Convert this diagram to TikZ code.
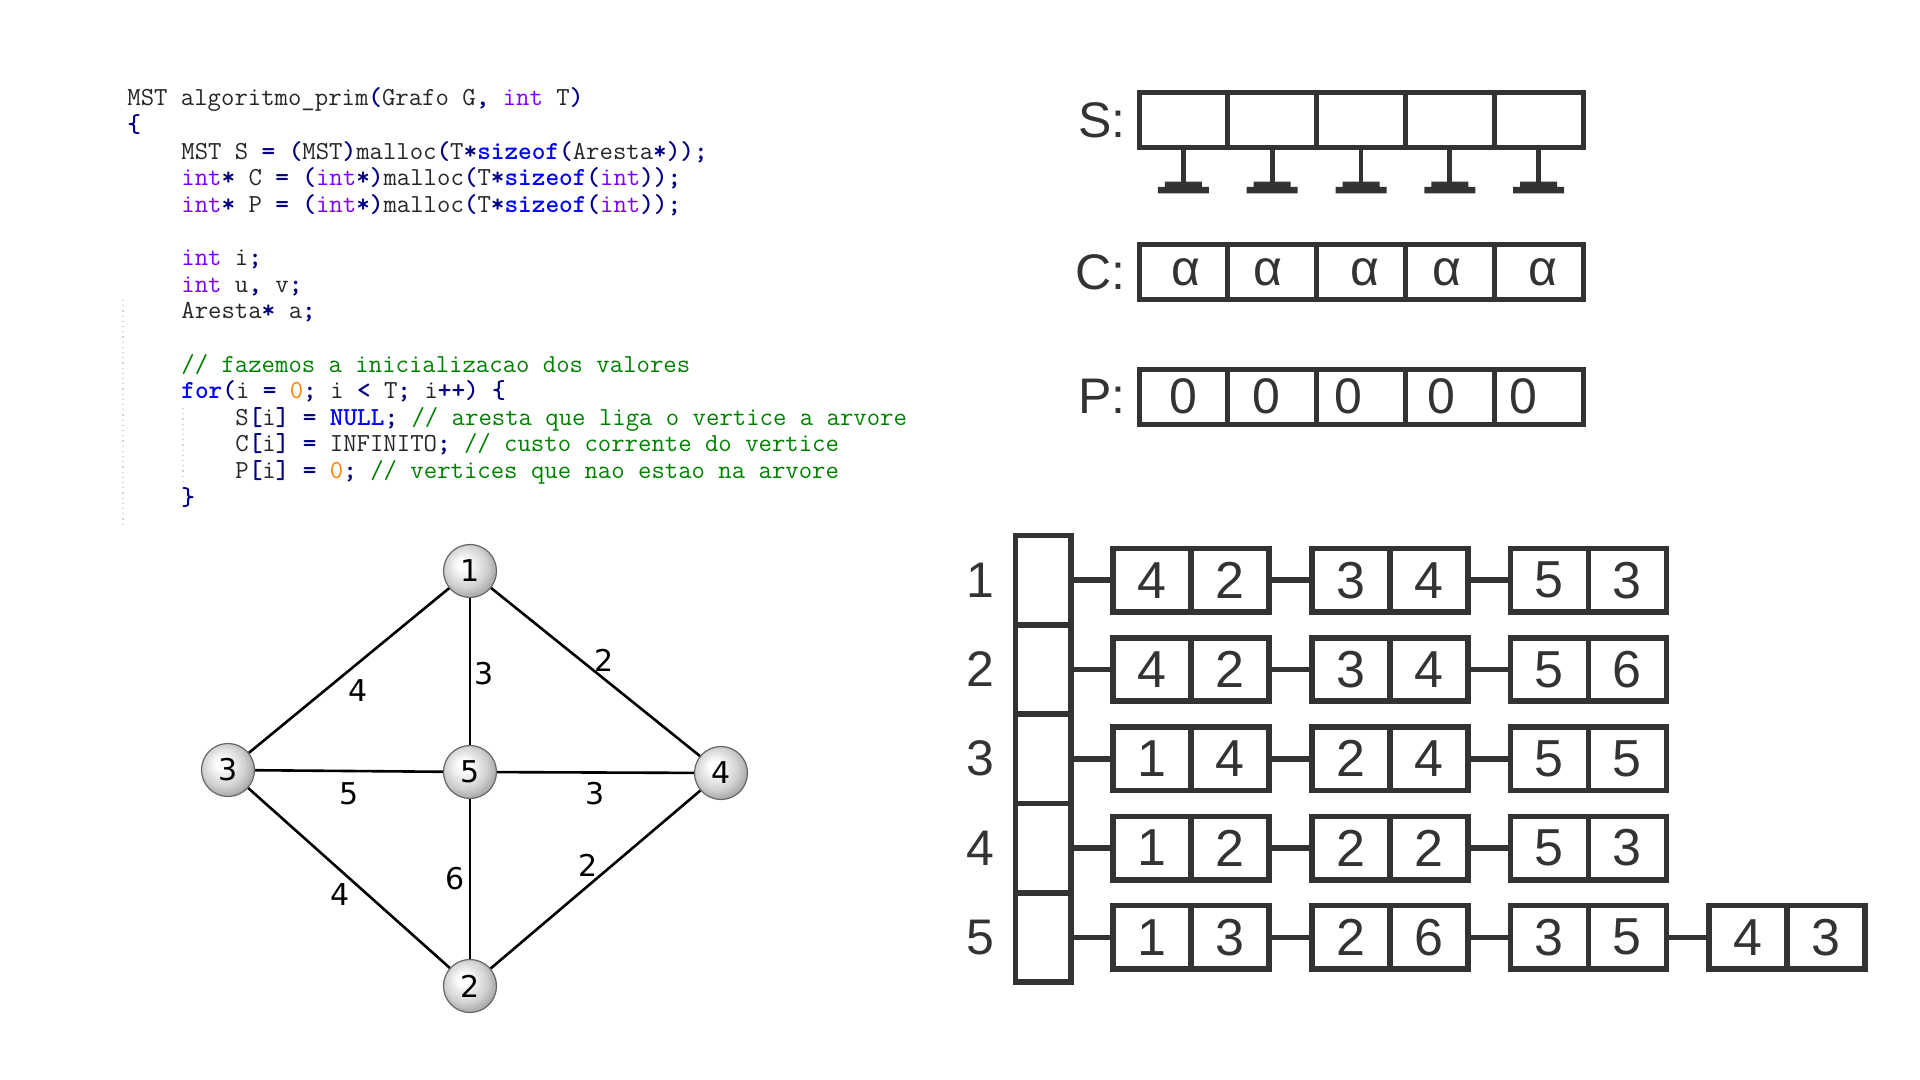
\documentclass[tikz,border=0pt]{standalone}
\usepackage{fontspec}
\newfontfamily\arialfont{Liberation Sans}
\newfontfamily\graphfont{DejaVu Sans}

\definecolor{kwblue}{HTML}{0000FF}
\definecolor{typepurple}{HTML}{8000FF}
\definecolor{opnavy}{HTML}{000080}
\definecolor{numorange}{HTML}{FF8000}
\definecolor{comgreen}{HTML}{008000}
\definecolor{boxgray}{HTML}{333333}

\newcommand{\kw}[1]{\textcolor{kwblue}{\bfseries #1}}
\newcommand{\ty}[1]{\textcolor{typepurple}{#1}}
\newcommand{\op}[1]{\textcolor{opnavy}{\bfseries #1}}
\newcommand{\nm}[1]{\textcolor{numorange}{#1}}
\newcommand{\cm}[1]{\textcolor{comgreen}{#1}}

\pgfdeclareradialshading{vball}{\pgfpoint{-7bp}{7bp}}{%
  color(0bp)=(white); color(5bp)=(white);
  color(20bp)=(black!18); color(32bp)=(black!42); color(50bp)=(black!42)}

\tikzset{
  codeline/.style={anchor=base west, inner sep=0pt, text=black!85,
    font=\ttfamily\fontsize{13}{14}\selectfont},
  guide/.style={gray!35, dotted, line width=0.6pt},
  vert/.style={circle, draw=black!60, line width=0.6pt, shade, shading=vball,
    minimum size=26.5pt, inner sep=0pt, font=\graphfont\fontsize{15}{15}\selectfont},
  wlbl/.style={inner sep=0pt, font=\graphfont\fontsize{15}{15}\selectfont},
  gedge/.style={line width=1.3pt},
  arrlbl/.style={anchor=east, inner sep=0pt, text=boxgray,
    font=\arialfont\fontsize{25}{25}\selectfont},
  rowlbl/.style={inner sep=0pt, text=boxgray,
    font=\arialfont\fontsize{25}{25}\selectfont},
  scell/.style={draw=boxgray, line width=2.5pt, minimum width=44.4pt,
    minimum height=27.6pt, inner sep=0pt},
  sval/.style={inner sep=0pt, text=boxgray,
    font=\arialfont\fontsize{25}{25}\selectfont},
  vcell/.style={draw=boxgray, line width=2.8pt, minimum width=27.65pt,
    minimum height=44.65pt, inner sep=0pt},
  lcell/.style={draw=boxgray, line width=2.8pt, minimum width=39pt,
    minimum height=31.75pt, inner sep=0pt, text=boxgray,
    font=\arialfont\fontsize{26}{26}\selectfont},
  link/.style={draw=boxgray, line width=2.8pt},
}

\begin{document}
\begin{tikzpicture}[x=0.5pt, y=-0.5pt]
    \useasboundingbox (0,0) rectangle (1920,1080);

    % codigo
    \draw[guide] (123,300) -- (123,528);
    \draw[guide] (183,408) -- (183,486);
    \node[codeline] (c1) at (127,106) {MST algoritmo\_prim\op{(}Grafo G\op{,} \ty{int} T\op{)}};
    \node[codeline] (c2) at (127,132.6) {\op{\{}};
    \node[codeline] (c3) at (181,159.2) {MST S \op{=} \op{(}MST\op{)}malloc\op{(}T\op{*}\kw{sizeof}\op{(}Aresta\op{*));}};
    \node[codeline] (c4) at (181,185.8) {\ty{int}\op{*} C \op{=} \op{(}\ty{int}\op{*)}malloc\op{(}T\op{*}\kw{sizeof}\op{(}\ty{int}\op{));}};
    \node[codeline] (c5) at (181,212.4) {\ty{int}\op{*} P \op{=} \op{(}\ty{int}\op{*)}malloc\op{(}T\op{*}\kw{sizeof}\op{(}\ty{int}\op{));}};
    \node[codeline] (c6) at (181,265.6) {\ty{int} i\op{;}};
    \node[codeline] (c7) at (181,292.2) {\ty{int} u\op{,} v\op{;}};
    \node[codeline] (c8) at (181,318.8) {Aresta\op{*} a\op{;}};
    \node[codeline] (c9) at (181,372) {\cm{// fazemos a inicializacao dos valores}};
    \node[codeline] (c10) at (181,398.6) {\kw{for}\op{(}i \op{=} \nm{0}\op{;} i \op{<} T\op{;} i\op{++)} \op{\{}};
    \node[codeline] (c11) at (235,425.2) {S\op{[}i\op{]} \op{=} \kw{NULL}\op{;} \cm{// aresta que liga o vertice a arvore}};
    \node[codeline] (c12) at (235,451.8) {C\op{[}i\op{]} \op{=} INFINITO\op{;} \cm{// custo corrente do vertice}};
    \node[codeline] (c13) at (235,478.4) {P\op{[}i\op{]} \op{=} \nm{0}\op{;} \cm{// vertices que nao estao na arvore}};
    \node[codeline] (c14) at (181,505) {\op{\}}};

    % grafo
    \node[vert] (V1) at (470,571) {1};
    \node[vert] (V2) at (470,986) {2};
    \node[vert] (V3) at (228,770) {3};
    \node[vert] (V4) at (721,773) {4};
    \node[vert] (V5) at (470,772) {5};

    \path[gedge] (V1) edge node[wlbl, xshift=4.3pt, yshift=-10.2pt] {4} (V3)
                 (V1) edge node[wlbl, xshift=6.8pt, yshift=-1pt] {3} (V5)
                 (V1) edge node[wlbl, xshift=4.1pt, yshift=5.9pt] {2} (V4)
                 (V3) edge node[wlbl, yshift=-11.2pt] {5} (V5)
                 (V5) edge node[wlbl, yshift=-10.5pt] {3} (V4)
                 (V3) edge node[wlbl, xshift=-4.3pt, yshift=-8.5pt] {4} (V2)
                 (V5) edge node[wlbl, xshift=-7.3pt] {6} (V2)
                 (V2) edge node[wlbl, xshift=-3.9pt, yshift=6.9pt] {2} (V4);

    % vetores S, C e P
    \node[arrlbl] (Slbl) at (1126,120.4) {S:};
    \node[arrlbl] (Clbl) at (1126,272.3) {C:};
    \node[arrlbl] (Plbl) at (1126,396.7) {P:};
    \foreach \i/\da/\dz in {1/3/0, 2/-4/-6, 3/4/-13, 4/-3/-8, 5/4/-15} {
        \node[scell] (S\i) at ({1139+88.8*(\i-0.5)},120.4) {};
        \node[scell] (C\i) at ({1139+88.8*(\i-0.5)},272.3) {};
        \node[scell] (P\i) at ({1139+88.8*(\i-0.5)},396.7) {};
        \node[sval] (a\i) at ([xshift=\da*0.5pt]C\i.center) {α};
        \node[sval] (z\i) at ([xshift=\dz*0.5pt]P\i.center) {0};
        \coordinate (G\i) at ({1139+88.8*(\i-0.5)},181.7);
        \draw[link, line width=2.4pt] (S\i.south) -- (G\i);
        \fill[boxgray, shift={(G\i)}] (-18.5,0) rectangle (18.5,5.3)
                                      (-25.5,5.3) rectangle (25.5,11.6);
    }

    % lista de adjacencia
    \foreach \r in {1,...,5} {
        \node[vcell] (A\r) at (1043.2,{535.5+89.3*(\r-0.5)}) {};
        \node[rowlbl] (N\r) at (980,{535.5+89.3*(\r-0.5)}) {\r};
    }
    \foreach \r/\lst in {1/{4/2,3/4,5/3}, 2/{4/2,3/4,5/6}, 3/{1/4,2/4,5/5},
                         4/{1/2,2/2,5/3}, 5/{1/3,2/6,3/5,4/3}} {
        \foreach \v/\w [count=\j] in \lst {
            \node[lcell] (L\r\j) at ({1152+198.7*(\j-1)},{535.5+89.3*(\r-0.5)}) {\v};
            \node[lcell] (W\r\j) at ({1230+198.7*(\j-1)},{535.5+89.3*(\r-0.5)}) {\w};
            \ifnum\j=1
                \draw[link] (A\r) -- (L\r\j);
            \else
                \pgfmathtruncatemacro\k{\j-1}
                \draw[link] (W\r\k) -- (L\r\j);
            \fi
        }
    }

\end{tikzpicture}
\end{document}
